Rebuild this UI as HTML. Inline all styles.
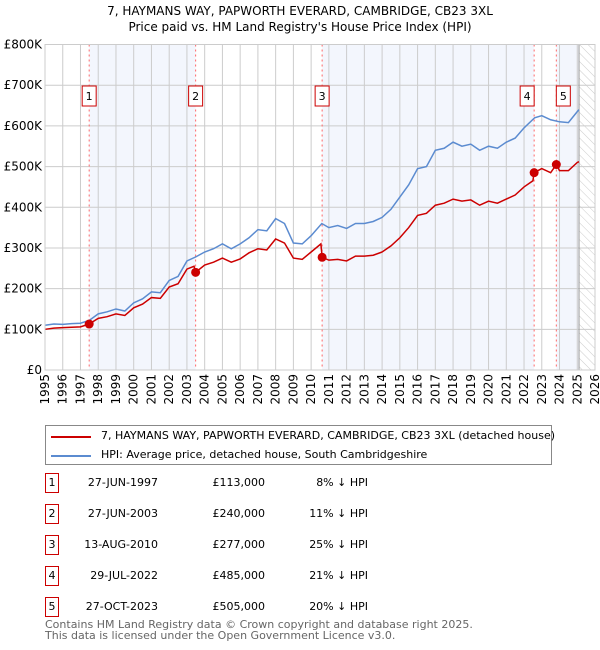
<!DOCTYPE html>
<html><head><meta charset="utf-8"><style>
body{margin:0;background:#fff;font-family:"DejaVu Sans","Liberation Sans",sans-serif;}
#wrap{position:relative;width:600px;height:650px;overflow:hidden}
.t{position:absolute;font-size:11px;color:#000;white-space:nowrap}
.box{position:absolute;width:12px;height:18px;border:1px solid #c00;font-size:11px;text-align:center;line-height:18px}
</style></head><body><div id="wrap">
<div class="t" style="left:0;width:600px;text-align:center;top:3px;font-size:12px;line-height:16px">7, HAYMANS WAY, PAPWORTH EVERARD, CAMBRIDGE, CB23 3XL<br>Price paid vs. HM Land Registry's House Price Index (HPI)</div>
<svg id="c" width="600" height="420" style="position:absolute;left:0;top:0"></svg>
<div style="position:absolute;left:45px;top:425px;width:505px;height:38px;border:1px solid #888">
<div style="position:absolute;left:5px;top:10px;width:40px;height:2px;background:#c00"></div>
<div class="t" style="left:55px;top:3px">7, HAYMANS WAY, PAPWORTH EVERARD, CAMBRIDGE, CB23 3XL (detached house)</div>
<div style="position:absolute;left:5px;top:29px;width:40px;height:2px;background:#5b8bd0"></div>
<div class="t" style="left:55px;top:22px">HPI: Average price, detached house, South Cambridgeshire</div>
</div>
<div id="tbl"></div>
<div class="t" style="left:45px;top:619px;color:#666;line-height:11px">Contains HM Land Registry data © Crown copyright and database right 2025.<br>This data is licensed under the Open Government Licence v3.0.</div>
</div>
<script>
const hpiYears=[1995,1995.5,1996,1996.5,1997,1997.5,1998,1998.5,1999,1999.5,2000,2000.5,2001,2001.5,2002,2002.5,2003,2003.5,2004,2004.5,2005,2005.5,2006,2006.5,2007,2007.5,2008,2008.5,2009,2009.5,2010,2010.6,2011,2011.5,2012,2012.5,2013,2013.5,2014,2014.5,2015,2015.5,2016,2016.5,2017,2017.5,2018,2018.5,2019,2019.5,2020,2020.5,2021,2021.5,2022,2022.6,2023,2023.5,2024,2024.5,2025,2025.1];
const hpiValues=[110,113,112,114,115,122,138,143,150,145,165,175,192,190,220,230,268,278,290,298,310,298,310,325,345,342,372,360,312,310,330,360,350,355,348,360,360,365,375,395,425,455,495,500,540,545,560,550,555,540,550,545,560,570,595,620,625,615,610,608,635,640];
const ppYears=[1995,1995.5,1996,1996.5,1997,1997.49,1998,1998.5,1999,1999.5,2000,2000.5,2001,2001.5,2002,2002.5,2003,2003.4,2003.49,2004,2004.5,2005,2005.5,2006,2006.5,2007,2007.5,2008,2008.5,2009,2009.5,2010,2010.55,2010.62,2011,2011.5,2012,2012.5,2013,2013.5,2014,2014.5,2015,2015.5,2016,2016.5,2017,2017.5,2018,2018.5,2019,2019.5,2020,2020.5,2021,2021.5,2022,2022.5,2022.57,2023,2023.5,2023.82,2024,2024.5,2025,2025.1];
const ppValues=[100,103,104,105,106,113,127,131,138,134,153,162,178,176,204,212,248,255,240,258,265,275,265,273,288,298,295,322,312,275,272,290,310,277,270,272,268,280,280,282,290,305,325,350,380,385,405,410,420,415,418,405,415,410,420,430,450,465,485,495,485,505,490,490,510,512];
const saleYears=[1997.49,2003.49,2010.62,2022.57,2023.82];
const saleValues=[113,240,277,485,505];
const saleDates=["27-JUN-1997","27-JUN-2003","13-AUG-2010","29-JUL-2022","27-OCT-2023"];
const salePrices=["£113,000","£240,000","£277,000","£485,000","£505,000"];
const salePct=["8% ↓ HPI","11% ↓ HPI","25% ↓ HPI","21% ↓ HPI","20% ↓ HPI"];
const yTicks=[0,100,200,300,400,500,600,700,800];
const yTickLabels=["£0","£100K","£200K","£300K","£400K","£500K","£600K","£700K","£800K"];
const dataEnd=2025.1;
const X0=45,X1=595,Y0=370,Y1=44.5;
const FF='DejaVu Sans, Liberation Sans, sans-serif';
const x=y=>X0+(y-1995)/31*(X1-X0);
const yv=v=>Y0-v/800*(Y0-Y1);
const svg=document.getElementById('c');const NS='http://www.w3.org/2000/svg';
function mk(t,a,p){const e=document.createElementNS(NS,t);for(const k in a)e.setAttribute(k,a[k]);(p||svg).appendChild(e);return e;}
let defs=mk('defs',{});let pat=mk('pattern',{id:'h',width:6,height:6,patternUnits:'userSpaceOnUse',patternTransform:'rotate(-45)'},defs);mk('line',{x1:0,y1:0,x2:0,y2:6,stroke:'#ccc','stroke-width':1},pat);
const shades=[[saleYears[0],saleYears[1]],[saleYears[2],saleYears[3]],[saleYears[4],dataEnd]];
shades.forEach(s=>{const r=mk('rect',{x:x(s[0]),y:Y1,width:x(s[1])-x(s[0]),height:Y0-Y1,fill:'#f3f6fd'});

});
const hr=mk('rect',{x:x(dataEnd),y:Y1,width:X1-x(dataEnd),height:Y0-Y1,fill:'url(#h)'});


for(let yr=1995;yr<=2026;yr++){mk('line',{x1:x(yr),x2:x(yr),y1:Y1,y2:Y0,stroke:'#ccc'});
const t=mk('text',{x:0,y:0,transform:`translate(${x(yr)+4},${Y0+4}) rotate(-90)`,'text-anchor':'end','font-size':12,'font-family':FF});t.textContent=yr;

}
yTicks.forEach((v,i)=>{mk('line',{x1:X0,x2:X1,y1:yv(v),y2:yv(v),stroke:'#ccc'});
const t=mk('text',{x:X0-3,y:yv(v)+4,'text-anchor':'end','font-size':12,'font-family':FF});t.textContent=yTickLabels[i];

});
mk('line',{x1:x(dataEnd),x2:x(dataEnd),y1:Y1,y2:Y0,stroke:'#999'});
saleYears.forEach((s,i)=>{mk('line',{x1:x(s),x2:x(s),y1:Y1,y2:Y0,stroke:'#f66','stroke-dasharray':'2,3'});
const bx=x(s)-(i==3?7:i==4?-7:0);
const g=mk('rect',{x:bx-7,y:86,width:14,height:20,fill:'#fff',stroke:'#c00'});


const t=mk('text',{x:bx,y:100,'text-anchor':'middle','font-size':11,'font-family':FF});t.textContent=i+1;});
const hp=mk('polyline',{points:hpiYears.map((y,i)=>x(y)+','+yv(hpiValues[i])).join(' '),fill:'none',stroke:'#5b8bd0','stroke-width':1.5});


const pp=mk('polyline',{points:ppYears.map((y,i)=>x(y)+','+yv(ppValues[i])).join(' '),fill:'none',stroke:'#c00','stroke-width':1.5});


saleYears.forEach((s,i)=>{const c=mk('circle',{cx:x(s),cy:yv(saleValues[i]),r:4.5,fill:'#c00'});

});
mk('rect',{x:X0,y:Y1,width:X1-X0,height:Y0-Y1,fill:'none',stroke:'#ccc'});
const tb=document.getElementById('tbl');
saleDates.forEach((d,i)=>{const top=473+i*31;
const row=document.createElement('div');


row.innerHTML=`<div class="box" style="left:45px;top:${top}px">${i+1}</div><div class="t" style="left:60px;width:98px;text-align:right;top:${top+3}px">${d}</div><div class="t" style="left:180px;width:85px;text-align:right;top:${top+3}px">${salePrices[i]}</div><div class="t" style="left:280px;width:88px;text-align:right;top:${top+3}px">${salePct[i]}</div>`;
tb.appendChild(row);});
</script></body></html>
